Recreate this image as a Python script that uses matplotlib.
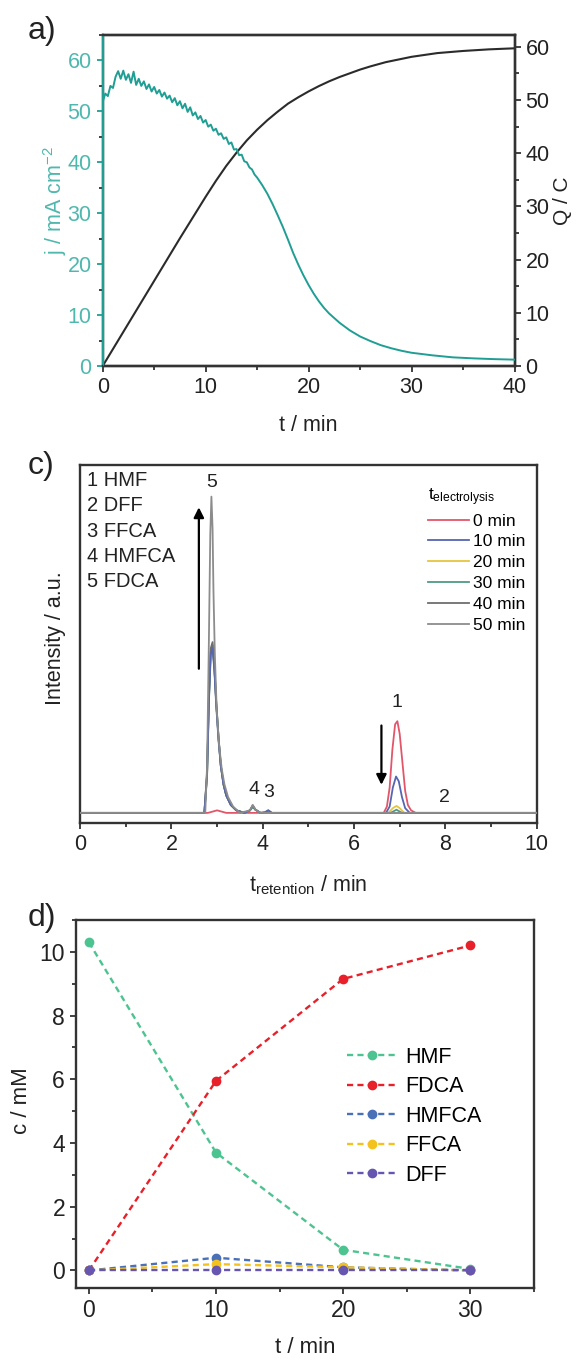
import numpy as np
import matplotlib
matplotlib.use("Agg")
import matplotlib.pyplot as plt
from matplotlib.ticker import MultipleLocator, NullLocator

plt.rcParams['font.family'] = ['Liberation Sans', 'DejaVu Sans']
plt.rcParams['mathtext.fontset'] = 'custom'
plt.rcParams['mathtext.rm'] = 'Liberation Sans'
plt.rcParams['mathtext.it'] = 'Liberation Sans'

# ---- panel a: current density and charge vs time
j_t = [0, 0.02, 0.25, 0.5, 0.75, 1.0, 1.25, 1.5, 1.75, 2.0, 2.25, 2.5, 2.75, 3.0,
       3.25, 3.5, 3.75, 4.0, 4.25, 4.5, 4.75, 5.0, 5.25, 5.5, 5.75, 6.0, 6.25,
       6.5, 6.75, 7.0, 7.25, 7.5, 7.75, 8.0, 8.25, 8.5, 8.75, 9.0, 9.25, 9.5,
       9.75, 10.0, 10.25, 10.5, 10.75, 11.0, 11.25, 11.5, 11.75, 12.0, 12.25,
       12.5, 12.75, 13.0, 13.25, 13.5, 13.75, 14.0, 14.25, 14.5, 14.75, 15.0,
       15.5, 16, 16.5, 17, 17.5, 18, 18.5, 19, 19.5, 20, 20.5, 21, 21.5, 22,
       23, 24, 25, 26, 27, 28, 29, 30, 32, 34, 36, 38, 40]
j_val = [0, 52.0, 53.5, 53.0, 55.0, 54.6, 56.8, 57.9, 56.4, 58.0, 56.2, 57.3,
         55.6, 57.8, 55.2, 56.4, 55.0, 55.9, 54.4, 55.3, 53.9, 54.8, 53.5, 54.2,
         52.9, 53.7, 52.5, 53.1, 51.8, 52.6, 51.2, 52.0, 50.6, 51.5, 49.9, 50.8,
         49.2, 49.8, 48.5, 49.1, 47.8, 48.3, 47.0, 47.4, 46.2, 46.6, 45.4, 45.7,
         44.6, 44.9, 43.6, 43.9, 42.5, 42.6, 41.4, 41.5, 40.2, 40.0, 39.0, 38.6,
         37.6, 37.0, 35.5, 33.8, 31.8, 29.6, 27.3, 24.8, 22.2, 19.9, 17.8, 15.9,
         14.2, 12.7, 11.4, 10.3, 8.5, 7.0, 5.8, 4.9, 4.1, 3.5, 3.0, 2.6, 2.1,
         1.7, 1.5, 1.35, 1.25]
q_t = [0, 2.5, 5, 7.5, 10, 11, 12, 13, 14, 15, 16, 17, 18, 19, 20, 21, 22, 23,
       24, 25, 26, 27.5, 30, 32.5, 35, 37.5, 40]
q_val = [0, 8.0, 16.0, 24.0, 31.8, 34.8, 37.6, 40.1, 42.4, 44.4, 46.2, 47.8,
         49.3, 50.5, 51.6, 52.6, 53.5, 54.3, 55.0, 55.7, 56.3, 57.1, 58.1, 58.8,
         59.2, 59.5, 59.7]

# ---- panel c: HPLC chromatograms
chrom_labels = ['0 min', '10 min', '20 min', '30 min', '40 min', '50 min']
chrom_colors = ['#e2566a', '#5666b0', '#e6c53e', '#4f9a86', '#6e6e6e', '#8c8c8c']
chrom_x = [
    [0, 2.8, 3.0, 3.2, 6.65, 6.72, 6.78, 6.84, 6.9, 6.95, 7.0, 7.06, 7.12, 7.18, 7.25, 7.35, 10],
    [0, 2.72, 2.78, 2.82, 2.86, 2.9, 2.94, 2.98, 3.03, 3.08, 3.14, 3.2, 3.3, 3.42, 3.6,
     3.72, 3.78, 3.84, 3.95, 4.05, 4.12, 4.2, 6.7, 6.78, 6.85, 6.92, 6.98, 7.05, 7.12, 7.22, 10],
    [0, 2.72, 2.78, 2.82, 2.86, 2.9, 2.94, 2.98, 3.03, 3.08, 3.14, 3.2, 3.3, 3.42, 3.6,
     3.72, 3.78, 3.84, 3.95, 6.75, 6.85, 6.93, 7.0, 7.1, 10],
    [0, 2.72, 2.78, 2.82, 2.86, 2.9, 2.94, 2.98, 3.03, 3.08, 3.14, 3.2, 3.3, 3.42, 3.6,
     3.72, 3.78, 3.84, 3.95, 6.8, 6.93, 7.05, 10],
    [0, 2.72, 2.78, 2.82, 2.86, 2.9, 2.94, 2.98, 3.03, 3.08, 3.14, 3.2, 3.3, 3.42, 3.6,
     3.72, 3.78, 3.84, 3.95, 4.05, 4.12, 4.2, 10],
    [0, 2.74, 2.78, 2.82, 2.85, 2.875, 2.9, 2.92, 2.95, 2.99, 3.04, 3.1, 3.16, 3.24,
     3.35, 3.5, 3.72, 3.78, 3.84, 3.95, 10],
]
chrom_y = [
    [0, 0, 0.008, 0, 0, 0.02, 0.08, 0.2, 0.28, 0.29, 0.25, 0.16, 0.07, 0.025, 0.008, 0, 0],
    [0, 0, 0.12, 0.35, 0.5, 0.52, 0.45, 0.34, 0.23, 0.15, 0.09, 0.055, 0.025, 0.008, 0,
     0.008, 0.022, 0.01, 0, 0.002, 0.008, 0, 0, 0.02, 0.08, 0.115, 0.1, 0.05, 0.015, 0, 0],
    [0, 0, 0.12, 0.36, 0.51, 0.53, 0.46, 0.35, 0.24, 0.15, 0.09, 0.055, 0.025, 0.008, 0,
     0.008, 0.02, 0.01, 0, 0, 0.015, 0.022, 0.015, 0, 0],
    [0, 0, 0.12, 0.36, 0.51, 0.53, 0.46, 0.35, 0.24, 0.15, 0.09, 0.055, 0.025, 0.008, 0,
     0.008, 0.018, 0.01, 0, 0, 0.01, 0, 0],
    [0, 0, 0.13, 0.37, 0.52, 0.54, 0.46, 0.35, 0.24, 0.15, 0.09, 0.055, 0.025, 0.008, 0,
     0.008, 0.024, 0.01, 0, 0.002, 0.008, 0, 0],
    [0, 0, 0.15, 0.55, 0.88, 1.0, 0.9, 0.7, 0.5, 0.33, 0.22, 0.14, 0.09, 0.05, 0.02, 0,
     0.008, 0.025, 0.01, 0, 0],
]
chrom_order = [2, 6, 3, 4, 5, 7]
peak_ids = ['5', '4', '3', '1', '2']
peak_x = [2.88, 3.8, 4.12, 6.93, 7.98]
peak_y = [1.045, 0.073, 0.063, 0.35, 0.05]
compound_list = ['1 HMF', '2 DFF', '3 FFCA', '4 HMFCA', '5 FDCA']

# ---- panel d: concentrations
d_time = [0, 10, 20, 30]
d_names = ['HMF', 'FDCA', 'HMFCA', 'FFCA', 'DFF']
d_conc = [
    [10.3, 3.7, 0.65, 0.05],
    [0.0, 5.95, 9.15, 10.2],
    [0.0, 0.4, 0.1, 0.0],
    [0.0, 0.2, 0.1, 0.0],
    [0.0, 0.0, 0.0, 0.0],
]
d_colors = ['#4cc48f', '#e8202a', '#4a70b8', '#f3c21f', '#6656b0']

W, H = 577, 1360
fig = plt.figure(figsize=(W / 100, H / 100), dpi=100)

def rect(l, r, t, b):
    return [l / W, 1 - b / H, (r - l) / W, (b - t) / H]

frame = '#333333'
teal = '#1f9e94'
txt = '#222222'

def style(ax, size=15.5):
    for s in ax.spines.values():
        s.set_color(frame)
        s.set_linewidth(1.7)
    ax.tick_params(which='both', direction='out', colors=frame, width=1.3,
                   labelsize=size, labelcolor=txt)
    ax.tick_params(which='major', length=4.5)
    ax.tick_params(which='minor', length=3)

# ---------------- panel a
axa = fig.add_axes(rect(102.7, 514.5, 35, 366))
axq = axa.twinx()
axq.plot(q_t, q_val, color='#2b2b2b', lw=1.5)
axa.plot(j_t, j_val, color=teal, lw=1.4, zorder=3)
axa.set_zorder(axq.get_zorder() + 1)
axa.patch.set_visible(False)
axa.set_xlim(0, 40)
axa.set_ylim(0, 65)
axq.set_ylim(0, 62.2)
for ax in (axa, axq):
    style(ax)
axa.spines['left'].set_color(teal)
axa.tick_params(axis='y', colors=teal, labelcolor='#4fb8ae')
axa.xaxis.set_major_locator(MultipleLocator(10))
axa.xaxis.set_minor_locator(MultipleLocator(5))
axa.yaxis.set_major_locator(MultipleLocator(10))
axa.yaxis.set_minor_locator(MultipleLocator(5))
axq.yaxis.set_major_locator(MultipleLocator(10))
axq.yaxis.set_minor_locator(MultipleLocator(5))
axa.set_xlabel('t / min', fontsize=15.5, color=txt)
axa.xaxis.set_label_coords(0.5, -0.148)
axa.set_ylabel('j / mA cm$^{-2}$', fontsize=15.5, color='#4fb8ae')
axa.yaxis.set_label_coords(-0.082, 0.5)
axq.set_ylabel('Q / C', fontsize=15, color=txt)
axq.yaxis.set_label_coords(1.094, 0.5)
fig.text(28 / W, 1 - 31 / H, 'a)', fontsize=23, va='center', ha='left', color=txt)

# ---------------- panel c
axc = fig.add_axes(rect(80.2, 536.6, 465, 823))
for xs, ys, c, lab, z in zip(chrom_x, chrom_y, chrom_colors, chrom_labels, chrom_order):
    axc.plot(xs, ys, color=c, lw=1.3, label=lab, zorder=z)
axc.set_xlim(0, 10)
axc.set_ylim(-0.032, 1.10)
style(axc)
axc.xaxis.set_major_locator(MultipleLocator(2))
axc.xaxis.set_minor_locator(MultipleLocator(1))
axc.yaxis.set_major_locator(NullLocator())
axc.set_xlabel('t$_{\\mathrm{retention}}$ / min', fontsize=15.5, color=txt)
axc.xaxis.set_label_coords(0.5, -0.140)
axc.set_ylabel('Intensity / a.u.', fontsize=15.5, color=txt)
axc.yaxis.set_label_coords(-0.031, 0.517)
for lab, x, y in zip(peak_ids, peak_x, peak_y):
    axc.text(x, y, lab, fontsize=14, ha='center', va='center', color=txt)
axc.annotate('', xy=(2.6, 0.975), xytext=(2.6, 0.447),
             arrowprops=dict(arrowstyle='-|>', color='black', lw=1.6, mutation_scale=15))
axc.annotate('', xy=(6.6, 0.08), xytext=(6.6, 0.285),
             arrowprops=dict(arrowstyle='-|>', color='black', lw=1.6, mutation_scale=15))
for i, t in enumerate(compound_list):
    axc.text(0.0153, 0.958 - i * 0.0712, t, transform=axc.transAxes, fontsize=14.5,
             ha='left', va='center', color=txt)
legc = axc.legend(loc='upper left', bbox_to_anchor=(0.762, 0.941), frameon=False,
                  fontsize=12.5, handlelength=2.35, handletextpad=0.23,
                  labelspacing=0.33, title='t$_{\\mathrm{electrolysis}}$',
                  title_fontsize=12.5, borderaxespad=0, borderpad=0)
legc._legend_box.align = 'left'

# ---------------- panel d
axd = fig.add_axes(rect(76.2, 533.7, 920, 1288))
for name, vals, c in zip(d_names, d_conc, d_colors):
    axd.plot(d_time, vals, color=c, lw=1.7, dashes=(2.6, 1.8), marker='o',
             markersize=6, label=name)
axd.set_xlim(-1, 35)
axd.set_ylim(-0.55, 11)
style(axd, size=16.5)
axd.xaxis.set_major_locator(MultipleLocator(10))
axd.xaxis.set_minor_locator(MultipleLocator(5))
axd.yaxis.set_major_locator(MultipleLocator(2))
axd.yaxis.set_minor_locator(MultipleLocator(1))
axd.set_xlabel('t / min', fontsize=16, color=txt)
axd.xaxis.set_label_coords(0.5, -0.134)
axd.set_ylabel('c / mM', fontsize=16, color=txt)
axd.yaxis.set_label_coords(-0.097, 0.508)
axd.legend(loc='upper left', bbox_to_anchor=(0.592, 0.655), frameon=False, fontsize=15.5,
           handlelength=2.3, handletextpad=0.42, labelspacing=0.39, borderaxespad=0,
           borderpad=0)
fig.text(28 / W, 1 - 466 / H, 'c)', fontsize=23, va='center', ha='left', color=txt)
fig.text(28 / W, 1 - 918 / H, 'd)', fontsize=23, va='center', ha='left', color=txt)

fig.savefig('out.png', dpi=100)
